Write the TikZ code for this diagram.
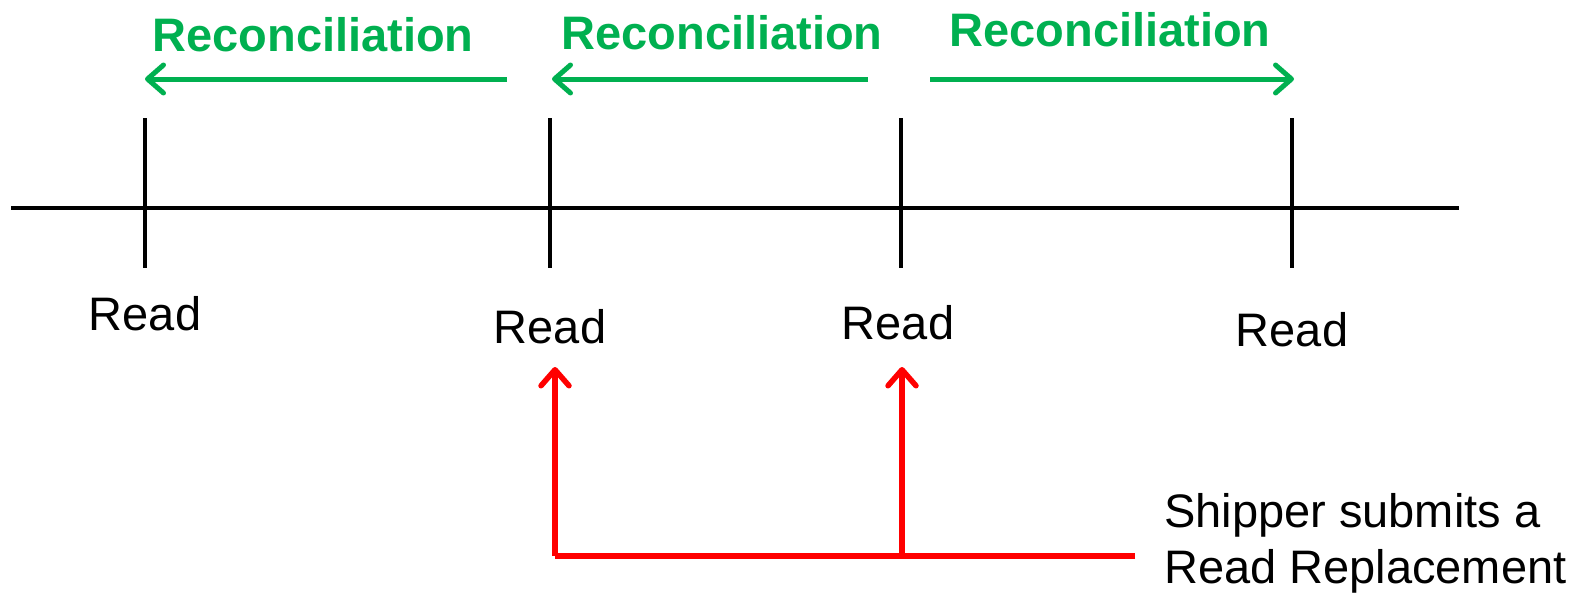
\documentclass[tikz,border=0pt]{standalone}
\usepackage{fontspec}
\setmainfont{Liberation Sans}
\usetikzlibrary{arrows.meta}
\definecolor{pgreen}{RGB}{0,176,80}
\definecolor{pred}{RGB}{255,0,0}
\begin{document}
\begin{tikzpicture}[x=1pt,y=-1pt,
  axis/.style={line width=4.5pt,black},
  tick/.style={line width=4.5pt,black},
  recon/.style={line width=5pt,pgreen,-{Straight Barb[length=16pt,width=28pt,line cap=round,line join=round]}},
  recontext/.style={anchor=base,text=pgreen,font=\fontsize{47}{50}\selectfont\bfseries,inner sep=0pt},
  readtext/.style={anchor=base,font=\fontsize{47}{50}\selectfont,inner sep=0pt},
  redline/.style={line width=5.5pt,pred,line join=round},
  redarrow/.style={line width=5.5pt,pred,-{Straight Barb[length=16pt,width=28pt,line cap=round,line join=round]}}]
\useasboundingbox (0,0) rectangle (1589,594);
% timeline
\coordinate (L) at (11,208);
\coordinate (R) at (1459,208);
\draw[axis] (L) -- (R);
% ticks
\foreach \n/\x in {1/145,2/550,3/901,4/1292}{
  \coordinate (t\n top) at (\x,118);
  \coordinate (t\n bot) at (\x,268);
  \draw[tick] (t\n top) -- (t\n bot);
}
% Read labels
\node[readtext] (r1) at (145,330) {Read};
\node[readtext] (r2) at (550,343) {Read};
\node[readtext] (r3) at (898,339) {Read};
\node[readtext] (r4) at (1292,346) {Read};
% Reconciliation
\node[recontext] (c1) at (313,52) {Reconciliation};
\node[recontext] (c2) at (722,50) {Reconciliation};
\node[recontext] (c3) at (1110,47) {Reconciliation};
\coordinate (a1s) at (507,79); \coordinate (a1e) at (145,79);
\coordinate (a2s) at (868,79); \coordinate (a2e) at (552,79);
\coordinate (a3s) at (930,79); \coordinate (a3e) at (1294,79);
\draw[recon] (a1s) -- (a1e);
\draw[recon] (a2s) -- (a2e);
\draw[recon] (a3s) -- (a3e);
% Shipper text
\node[anchor=base west,inner sep=0pt,align=left,font=\fontsize{47}{56}\selectfont] (ship) at (1164,583) {Shipper submits a\\Read Replacement};
% red connectors
\coordinate (rc) at (1135,556);
\coordinate (rm) at (902,556);
\coordinate (rl) at (555,556);
\coordinate (up1) at (555,367);
\coordinate (up2) at (902,367);
\draw[redline] (rc) -- (rl);
\draw[redarrow] (rl) -- (up1);
\draw[redarrow] (rm) -- (up2);
\end{tikzpicture}
\end{document}
